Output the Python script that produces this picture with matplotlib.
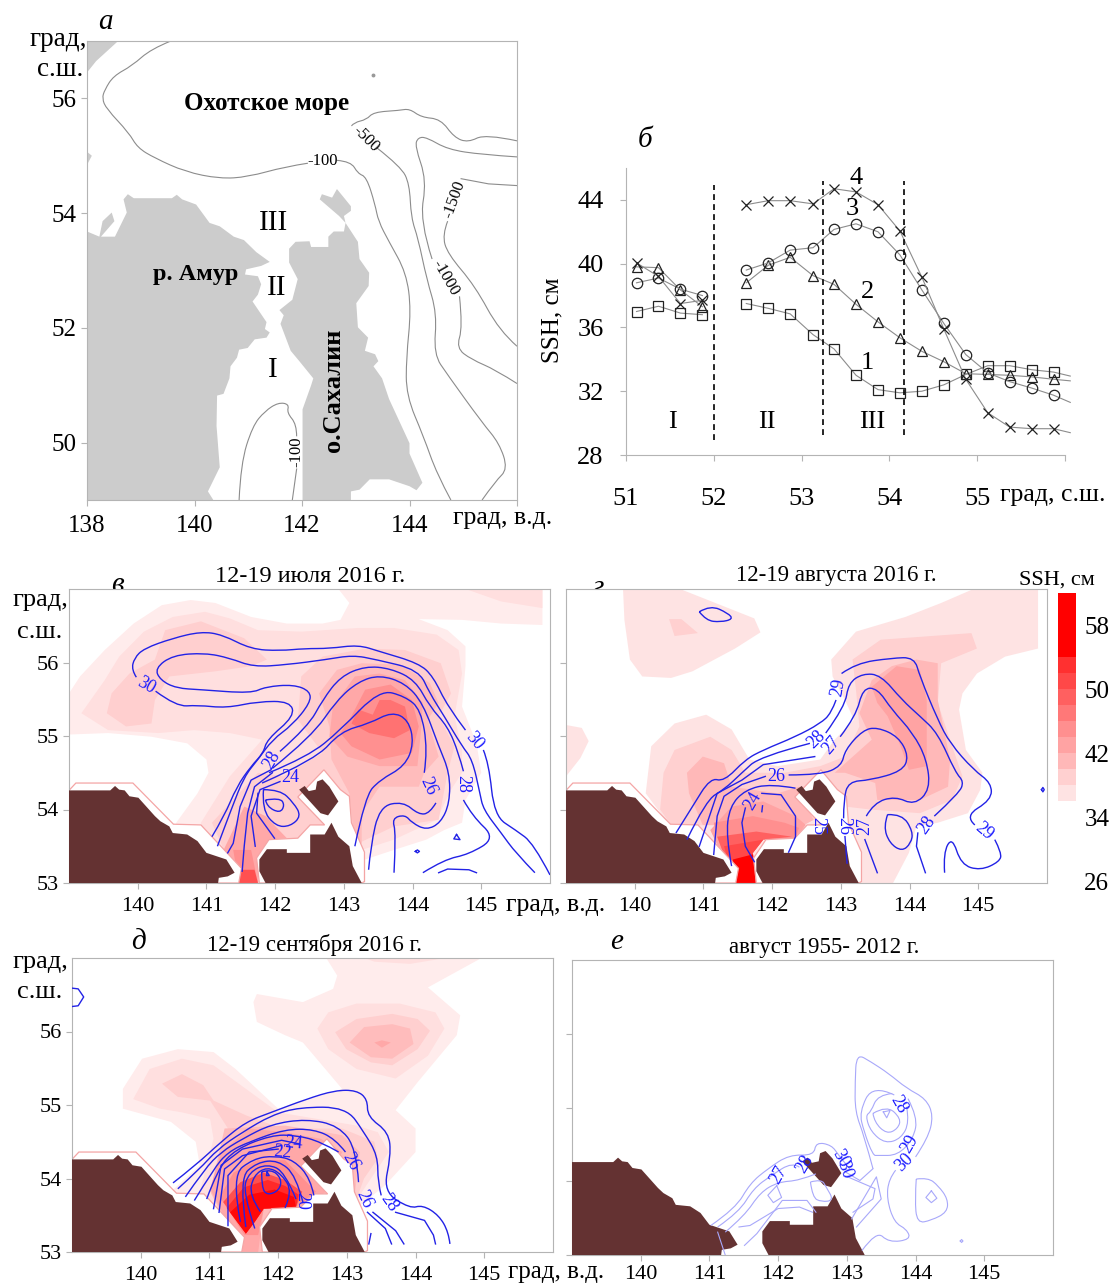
import matplotlib
matplotlib.use('Agg')
import matplotlib.pyplot as plt
from matplotlib.path import Path
from matplotlib.patches import PathPatch

plt.rcParams['font.family'] = ['Liberation Serif', 'DejaVu Serif']

W, H = 1109, 1286

# --- panel b, SSH along the strait ---
lat1 = [51.12, 51.37, 51.62, 51.87]
lat2 = [52.37, 52.62, 52.87, 53.13, 53.37, 53.62, 53.87, 54.12, 54.37, 54.62, 54.87, 55.12, 55.37, 55.62, 55.87]
lat_tail = 56.06
s1a = [37.0, 37.33, 36.9, 36.8]
s1b = [37.5, 37.2, 36.85, 35.55, 34.65, 33.0, 32.1, 31.9, 32.0, 32.4, 33.05, 33.6, 33.6, 33.35, 33.2]
s2a = [39.8, 39.75, 38.35, 37.3]
s2b = [38.8, 39.9, 40.4, 39.25, 38.7, 37.45, 36.35, 35.35, 34.5, 33.85, 33.1, 33.05, 33.0, 32.9, 32.75]
s3a = [38.8, 39.1, 38.4, 38.0]
s3b = [39.6, 40.05, 40.85, 41.0, 42.15, 42.5, 42.0, 40.55, 38.35, 36.25, 34.3, 33.15, 32.6, 32.2, 31.75]
s4a = [40.05, 39.2, 37.5, 37.7]
s4b = [43.7, 43.95, 43.95, 43.75, 44.7, 44.5, 43.7, 42.05, 39.15, 35.9, 32.75, 30.65, 29.75, 29.65, 29.65]
tails = [32.95, 32.65, 31.3, 29.4]
bounds_lat = [52.0, 53.24, 54.17]

# --- panel a, coast and isobaths (lon, lat) ---
a_west = [(138,53.68),(138.23,53.59),(138.29,53.86),(138.46,54.01),(138.51,53.86),(138.26,53.59),(138.52,53.59),(138.74,54.01),(138.68,54.24),(138.76,54.33),(138.87,54.26),(139.58,54.26),(139.67,54.32),(139.77,54.24),(140.03,54.15),(140.28,53.83),(140.47,53.77),(140.73,53.59),(140.92,53.53),(141.15,53.32),(141.40,53.15),(141.24,53.08),(140.96,53.02),(140.94,52.93),(141.18,52.90),(141.24,52.76),(141.18,52.58),(141.08,52.46),(141.34,52.10),(141.31,51.98),(141.40,51.92),(141.34,51.83),(141.12,51.80),(140.99,51.65),(140.83,51.62),(140.79,51.48),(140.67,51.33),(140.65,51.12),(140.54,50.85),(140.42,50.82),(140.41,50.29),(140.47,49.57),(140.25,49.15),(140.35,49),(138,49)]
a_sakh = [(142.01,49),(142.01,50.58),(142.17,51.0),(142.21,51.12),(141.95,51.42),(141.79,51.60),(141.60,52.07),(141.66,52.22),(141.58,52.31),(141.82,52.49),(141.92,52.85),(141.76,53.14),(141.76,53.38),(141.88,53.50),(142.14,53.51),(142.17,53.41),(142.49,53.41),(142.49,53.59),(142.59,53.68),(142.78,53.68),(142.81,53.83),(143.04,53.50),(143.07,53.20),(143.25,52.96),(143.24,52.73),(143.01,52.43),(143.04,52.01),(143.23,51.83),(143.17,51.60),(143.36,51.54),(143.42,51.42),(143.33,51.33),(143.49,51.12),(143.62,50.76),(144,49.99),(144,49.81),(144.24,49.30),(144.13,49.17),(144,49.24),(143.62,49.36),(143.26,49.36),(143.07,49.18),(142.91,49.15),(142.91,49)]
a_schmidt = [(142.81,53.83),(142.69,53.95),(142.33,54.24),(142.37,54.33),(142.56,54.27),(142.65,54.42),(142.91,54.12),(142.91,54.04),(142.78,53.95)]
a_nw = [(138,57),(138.58,57),(138.17,56.65),(138,56.45)]
a_bump = [(138,55.07),(138.09,55.0),(138,54.84)]
a_iso = [
    [(139.56,57),(139.19,56.86),(138.84,56.57),(138.49,56.39),(138.33,56.15),(138.28,56),(138.36,55.82),(138.78,55.40),(138.94,55.14),(139.26,54.96),(139.83,54.72),(140.47,54.60),(140.99,54.63),(141.69,54.81),(142.11,54.87)],
    [(142.65,54.92),(142.91,54.90),(143.04,54.69),(143.20,54.63),(143.36,54.15),(143.42,53.86),(143.62,53.50),(143.94,52.96),(144.03,52.31),(143.94,51.48),(143.94,50.82),(144.26,50.11),(144.51,49.45),(144.77,49)],
    [(142.92,55.52),(142.97,55.58),(143.20,55.63),(143.33,55.76),(143.81,55.79),(144,55.82),(144.22,55.67),(144.58,55.64),(144.83,55.32),(145.09,55.23),(145.41,55.38),(146,55.26)],
    [(143.39,55.14),(143.84,54.81),(144,54.51),(144.03,53.92),(144.16,53.56),(144.32,52.85),(144.51,52.25),(144.45,51.54),(144.71,51.18),(145.35,50.35),(145.67,49.99),(145.83,49.54),(145.60,49.33),(145.35,49)],
    [(146,54.98),(145.35,55.02),(144.71,55.11),(144.32,55.32),(144.16,55.32),(144.10,55.17),(144.32,54.57),(144.19,53.86),(144.42,53.20)],
    [(144.93,52.55),(144.99,52.01),(144.87,51.65),(145.15,51.45),(145.60,51.27),(146,51.03)],
    [(144.96,54.60),(145.47,54.51),(146,54.48)],
    [(144.71,53.86),(144.61,53.62),(144.71,53.29),(145.22,52.73),(145.67,51.95),(146,51.68)],
    [(140.83,49),(140.86,49.63),(141.08,50.29),(141.31,50.55),(141.56,50.70),(141.76,50.67),(141.72,50.52),(141.90,50.32),(141.90,50.11)],
    [(141.90,49.54),(141.82,49)],
]
a_iso_labels = [(143.19,55.29,'-500',-45),(142.38,54.90,'-100',0),(144.67,52.88,'-1000',-60),(144.83,54.24,'-1500',70),(141.90,49.84,'-100',90)]

# --- land and coastal mask shared by the SSH maps ---
land_w = [(139,53),(139,54.26),(139.60,54.26),(139.67,54.32),(139.73,54.27),(139.81,54.26),(139.88,54.18),(140.01,54.16),(140.25,53.91),(140.33,53.84),(140.46,53.77),(140.51,53.68),(140.72,53.66),(140.87,53.57),(141,53.41),(141.29,53.32),(141.41,53.14),(141.31,53.09),(141.18,53.07),(141.17,53)]
land_s = [(141.86,53),(141.77,53.16),(141.77,53.32),(141.88,53.46),(142.17,53.46),(142.17,53.41),(142.51,53.41),(142.51,53.66),(142.72,53.66),(142.82,53.82),(142.92,53.63),(143.08,53.50),(143.13,53.23),(143.26,53)]
land_p = [(142.35,54.27),(142.43,54.32),(142.49,54.25),(142.59,54.27),(142.61,54.38),(142.69,54.41),(142.79,54.31),(142.92,54.11),(142.77,53.92),(142.66,53.95)]
mask_w = [(139,54.26),(139.10,54.36),(139.93,54.36),(140.52,53.80),(140.92,53.79),(141.51,53.20),(141.47,53),(139,53)]
mask_e = [(141.77,53),(141.73,53.34),(141.91,53.59),(142.33,53.61),(142.51,53.79),(142.72,53.79),(142.33,54.17),(142.71,54.54),(142.95,54.27),(143.08,54.18),(143.11,53.82),(143.30,53.42),(143.30,53.02),(143.26,53)]

# --- SSH shading (colour step, outline) ---
cb_levels = [36, 38, 40, 42, 44, 46, 48, 50, 52, 54, 62]
cb_colors = ['#fee3e3', '#ffd0d0', '#ffb8b8', '#ffa3a3', '#ff8f8f', '#ff7878', '#ff6060', '#ff4848', '#ff3030', '#ff0000']
pale_colors = ['#ffecec', '#ffdfdf', '#ffcfcf', '#ffbcbc', '#ffa8a8', '#ff9090', '#ff7272', '#ff5050', '#ff2a2a', '#ff0808']

v_fills = [
    (0, [(139,55.02),(139.57,55.04),(140.20,54.99),(140.72,54.90),(141,54.68),(141.03,54.50),(140.87,54.22),(140.56,53.82),(140.56,53),(143.31,53),(143.31,53.32),(143.73,53.45),(144.20,53.59),(144.46,53.72),(144.72,53.82),(144.77,54.13),(145,54.50),(144.93,54.90),(144.72,55.40),(144.77,55.95),(144.77,56.22),(144.51,56.44),(144.09,56.59),(144.72,56.58),(145.29,56.53),(145.89,56.51),(145.89,57),(142.92,57),(143.08,56.81),(142.95,56.58),(142.69,56.53),(142.17,56.53),(141.65,56.62),(141.13,56.81),(140.77,56.85),(140.35,56.78),(139.94,56.53),(139.52,56.17),(139.16,55.81),(139,55.58)]),
    (1, [(144.77,57),(145.29,56.83),(145.89,56.74),(145.89,57)]),
    (1, [(139.18,55.31),(139.52,55.76),(139.73,56.08),(140.09,56.42),(140.51,56.62),(140.98,56.69),(141.34,56.60),(141.75,56.44),(142.38,56.42),(143.21,56.47),(143.73,56.47),(144.35,56.38),(144.67,56.17),(144.72,55.85),(144.61,55.27),(144.72,54.81),(144.72,54.50),(144.56,54.27),(144.35,53.86),(143.73,53.59),(143.26,53.45),(143.21,53),(141.13,53),(140.92,53.82),(141.34,54.45),(141.81,54.95),(141.34,55.04),(140.82,55.08),(140.30,55.04),(139.57,55.08)]),
    (2, [(139.55,55.31),(139.62,55.58),(139.88,55.85),(140.25,56.04),(140.40,56.44),(140.92,56.56),(141.55,56.33),(141.88,56.04),(141.65,55.95),(141.13,55.88),(140.46,55.81),(140.25,55.49),(140.20,55.17),(139.83,55.13)]),
    (2, [(142.38,55.81),(142.69,56.08),(143.31,56.19),(143.89,56.17),(144.41,55.99),(144.56,55.58),(144.38,55.27),(144.61,54.86),(144.51,54.50),(144.38,53.86),(143.73,53.77),(143.21,53.54),(143.21,53),(141.47,53),(141.08,53.82),(141.75,54.50),(142.12,54.45),(142.69,54.77),(142.33,55.22)]),
    (3, [(142.64,55.58),(142.90,55.90),(143.26,55.99),(143.83,55.97),(144.25,55.72),(144.38,55.45),(144.22,55.22),(144.38,54.72),(144.17,54.50),(144.09,54.31),(143.52,54.31),(143.26,53.95),(143.26,53.54),(143.16,53.50),(143.08,54.22),(142.82,54.68),(142.79,55.13)]),
    (4, [(142.84,55.40),(143.16,55.81),(143.52,55.85),(143.89,55.76),(144.15,55.45),(144.12,55.04),(144.07,54.59),(143.52,54.59),(143.05,54.72),(142.79,54.99)]),
    (5, [(143.11,55.27),(143.31,55.63),(143.68,55.70),(143.99,55.49),(144.09,55.13),(143.99,54.77),(143.52,54.68),(143.11,54.86),(142.95,55.04)]),
    (6, [(143.42,55.29),(143.52,55.49),(143.68,55.49),(143.89,55.40),(143.96,55.08),(143.73,54.97),(143.37,55.04),(143.11,55.17),(143.21,55.36)]),
    (4, [(141.23,53.41),(141.55,54.04),(141.86,53.91),(142.17,53.61),(141.91,53.59),(141.75,53.32),(141.75,53),(141.47,53)]),
    (5, [(141.39,53.45),(141.65,53.45),(141.75,53),(141.47,53)]),
    (7, [(141.49,53.18),(141.70,53.18),(141.75,53),(141.47,53)]),
]
v_lines = [
    [(139.98,55.80),(139.91,55.90),(139.95,56.06),(140.09,56.19),(140.51,56.33),(140.92,56.42),(141.23,56.38),(141.65,56.18),(142.07,56.16),(142.43,56.19),(142.79,56.19),(143.21,56.24),(143.52,56.15),(144.09,55.99),(144.30,55.81),(144.51,55.40),(144.77,55.08)],
    [(145.03,54.81),(145.11,54.63),(145.19,53.91),(145.50,53.72),(145.76,53.54),(146,53.11)],
    [(140.26,55.61),(140.56,55.40),(140.87,55.42),(141.29,55.38),(141.75,55.47),(142.22,55.47),(142.28,55.27),(141.88,54.95),(141.83,54.77),(141.65,54.59),(141.44,54.31),(141.26,53.91),(141.08,53.63)],
    [(141.16,53.50),(141.36,54),(141.55,54.45),(141.75,54.68),(141.96,54.95),(142.25,55.15),(142.51,55.45),(142.51,55.61),(142.27,55.70),(141.86,55.67),(141.65,55.58),(140.92,55.63),(140.56,55.65),(140.33,55.76),(140.25,55.92),(140.51,56.10),(140.98,56.13),(141.34,56.06),(141.68,55.94),(142.17,55.97),(142.74,56.04),(143.13,56.10),(143.47,56.04),(144.09,55.90),(144.25,55.58),(144.46,55.27),(144.72,54.86),(144.87,54.68),(144.98,54.22),(145.03,54),(145.29,53.68),(145.50,53.41),(145.78,53.14)],
    [(142.07,54.79),(142.48,55.13),(142.69,55.49),(142.95,55.81),(143.31,55.95),(143.68,55.92),(144.04,55.76),(144.25,55.40),(144.51,55.13),(144.67,54.77),(144.74,54.52)],
    [(144.74,54.13),(144.87,53.91),(145.21,53.61),(144.82,53.39),(144.46,53.32),(144.15,53.14)],
    [(141.96,54.56),(142.53,54.99),(142.90,55.49),(143.21,55.74),(143.52,55.83),(143.89,55.72),(144.15,55.45),(144.38,54.86),(144.54,54.50),(144.54,54.09),(144.41,53.82),(144.20,53.72),(143.99,53.82),(143.89,53.93),(143.70,53.88),(143.76,53.68),(143.73,53.14)],
    [(141.91,54.50),(142.48,54.72),(142.95,55.08),(143.52,55.63),(143.89,55.54),(144.12,55.36),(144.22,54.81),(144.17,54.50)],
    [(144.34,54.09),(144.25,53.95),(144.09,53.93),(143.86,54.11),(143.52,54.04),(143.39,53.50),(143.36,53.18)],
    [(141.81,54.36),(142.59,54.68),(142.95,55.06),(143.37,55.17),(143.70,55.33),(143.94,55.22),(144.02,54.90),(143.89,54.59),(143.52,54.40),(143.31,54.18),(143.16,53.50)],
    [(141.94,54.54),(141.65,54.40),(141.49,54.04),(141.39,53.54),(141.31,53.41)],
    [(141.96,54.50),(141.70,54.31),(141.60,53.95),(141.55,53.50),(141.52,53.16)],
    [(142.07,54.38),(141.78,54.27),(141.65,53.91),(141.71,53.50)],
    [(141.83,54.27),(142.07,54.27),(142.27,54.09),(142.38,53.91),(142.22,53.77),(142.01,53.77),(141.81,54),(141.83,54.27)],
    [(141.86,54.13),(142.07,54.16),(142.14,54.06),(142.07,53.95),(141.88,54.04),(141.86,54.13)],
    [(141.75,54.22),(141.73,53.95),(141.99,53.61)],
    [(144.64,53.66),(144.69,53.59),(144.60,53.60),(144.64,53.66)],
    [(144.04,53.43),(144.07,53.45),(144.10,53.43),(144.07,53.41),(144.04,53.43)],
    [(144.38,53.14),(144.51,53.19),(144.82,53.18),(144.93,53.14)],
]
v_labels = [(140.12,55.68,'30',-30),(141.95,54.68,'28',60),(142.22,54.43,'24',0),(144.23,54.31,'26',-65),(144.73,54.35,'28',-90),(144.90,54.93,'30',-50)]

g_fills = [
    (0, [(139.83,57),(140.66,57),(141.74,56.60),(141.83,56.41),(141.46,56.19),(140.84,55.88),(140.53,55.79),(140.11,55.81),(139.93,56.04),(139.85,56.58)]),
    (1, [(140.50,56.59),(140.68,56.59),(140.92,56.40),(140.58,56.36)]),
    (0, [(139,55.15),(139.23,55.11),(139.33,54.93),(139.21,54.70),(139,54.45)]),
    (0, [(144.93,57),(145.87,57),(145.87,56.19),(145.39,56.08),(144.98,55.85),(144.77,55.58),(144.72,55.36),(144.82,54.81),(145.06,54.50),(145.03,54.27),(144.85,53.95),(144.41,53.82),(144.10,53.77),(143.99,53.41),(143.76,53),(143.32,53),(142.39,53),(140.84,53),(140.48,53.82),(140.16,54.22),(140.24,54.86),(140.58,55.17),(141.04,55.29),(141.41,55.09),(141.67,54.68),(142.08,54.59),(142.70,54.68),(142.91,54.95),(143.19,55.22),(143.06,55.49),(142.88,55.81),(142.86,56.04),(143.22,56.42),(143.94,56.62),(144.46,56.81)]),
    (1, [(143.17,56.04),(143.58,56.31),(144.90,56.40),(144.98,56.19),(144.46,55.99),(144.41,55.45),(144.62,54.86),(144.77,54.45),(144.62,54.13),(144.15,53.95),(143.43,54),(143.06,54.04),(142.39,53.77),(140.53,53.79),(140.37,54),(140.42,54.50),(140.58,54.81),(141.10,54.99),(141.41,54.81),(141.61,54.50),(142.18,54.50),(142.70,54.59),(143.06,54.72),(143.27,55.13),(143.22,55.63)]),
    (2, [(143.45,55.76),(143.74,55.95),(144.10,56.04),(144.41,55.99),(144.41,55.49),(144.59,54.68),(144.56,54.31),(144.15,54.13),(143.53,54.13),(143.50,54.36),(143.06,54.50),(142.91,54.50),(143.45,54.95),(143.27,55.31)]),
    (2, [(140.76,54.50),(140.99,54.72),(141.30,54.63),(141.41,54.31),(142.08,54.22),(142.39,54.31),(142.60,53.86),(142.47,53.79),(140.99,53.79),(140.79,54.22)]),
    (3, [(143.45,55.67),(143.81,55.95),(144.15,55.90),(144.25,55.49),(144.25,54.59),(143.99,54.54),(143.87,54.86),(143.68,55.27),(143.53,55.45)]),
    (3, [(141.41,54.04),(141.87,54.11),(142.34,53.91),(142.49,53.79),(142.34,53.61),(141.87,53.59),(141.72,53.41),(141.77,53),(141.46,53),(141.10,53.72)]),
    (4, [(141.15,53.82),(141.72,53.91),(142.18,53.82),(142.39,53.75),(142.34,53.61),(141.87,53.59),(141.72,53.41),(141.77,53),(141.46,53),(141.20,53.63)]),
    (6, [(141.20,53.63),(141.77,53.70),(142.29,53.63),(141.87,53.59),(141.72,53.41),(141.76,53),(141.45,53)]),
    (7, [(141.30,53.50),(141.87,53.59),(141.72,53.41),(141.76,53),(141.45,53)]),
    (9, [(141.43,53.32),(141.72,53.39),(141.76,53),(141.45,53)]),
]
g_lines = [
    [(142.93,55.49),(142.86,55.31),(142.70,55.17),(142.34,54.99),(141.87,54.81),(141.61,54.68),(141.30,54.38),(141.10,54.43),(140.84,54.04),(140.60,53.68)],
    [(143.01,55.85),(143.22,55.99),(143.74,56.06),(144.07,56.07),(144.15,55.81),(144.41,55.22),(144.59,54.90),(144.93,54.54),(145.19,54.36),(145.19,54.13),(144.80,53.91),(144.95,53.79)],
    [(145.24,53.59),(145.34,53.41),(145.31,53.29),(145.03,53.17),(144.75,53.25),(144.62,53.63),(144.49,53.41),(144.51,53.14)],
    [(142.55,54.90),(141.82,54.72),(141.56,54.50),(141.30,54.27),(141.04,54.13),(140.76,53.59)],
    [(142.78,55.04),(143.06,55.40),(143.11,55.72),(143.32,55.85),(143.58,55.83),(143.89,55.49),(144.15,55.27),(144.41,55.04),(144.67,54.50),(144.79,54.38),(144.72,54.22),(144.36,53.91)],
    [(144.12,53.68),(144.10,53.50),(144.23,53.14)],
    [(142.62,54.72),(141.87,54.61),(141.56,54.40),(141.20,54.22),(140.94,53.50)],
    [(142.99,54.99),(143.22,55.27),(143.32,55.65),(143.53,55.65),(143.74,55.36),(144.05,55.04),(144.25,54.68),(144.30,54.27),(144.07,54.06),(143.79,54.18),(143.48,54.09),(143.37,53.91)],
    [(143.35,53.59),(143.53,53.14)],
    [(141.90,54.45),(141.56,54.34),(141.30,54.18),(141.20,53.91),(141.15,53.39)],
    [(142.24,54.47),(142.70,54.47),(143.01,54.59),(143.06,54.81),(143.32,55.08),(143.53,55.12),(143.84,54.99),(143.99,54.72),(143.89,54.52),(143.43,54.40),(143.11,54.38),(143.04,54.13),(143.04,53.88)],
    [(143.06,53.63),(143.09,53.27)],
    [(142.34,54.29),(141.98,54.35),(141.61,54.27),(141.38,54.04),(141.33,53.63),(141.41,53.23)],
    [(141.85,54.22),(142.13,54.20),(142.34,53.91),(142.34,53.63),(142.24,53.42)],
    [(141.61,54.02),(141.56,53.82),(141.61,53.50),(141.74,53.29)],
    [(141.86,54.05),(141.85,53.97)],
    [(143.68,53.93),(143.89,53.94),(144.05,53.70),(144.02,53.54),(143.89,53.43),(143.71,53.54),(143.62,53.77),(143.68,53.93)],
    [(140.94,56.69),(141.10,56.78),(141.36,56.67),(141.43,56.59),(141.25,56.55),(141.04,56.57),(140.94,56.69)],
    [(145.92,54.27),(145.94,54.30),(145.96,54.27),(145.94,54.24),(145.92,54.27)],
]
g_labels = [(142.96,55.66,'29',80),(142.65,54.95,'28',45),(142.86,54.88,'27',50),(142.06,54.45,'26',0),(141.72,54.11,'24',60),(142.67,53.77,'25',-90),(143.04,53.77,'26',-90),(143.35,53.77,'27',90),(144.25,53.79,'28',55),(145.08,53.70,'29',-40)]

d_fills = [
    (0, [(142.70,57),(144.96,57),(144.18,56.60),(144.65,56.22),(144.60,55.95),(144.03,55.31),(143.71,54.93),(143.45,54.99),(142.93,55.22),(142.36,55.85),(142.10,55.95),(141.69,56.13),(141.64,56.40),(141.69,56.51),(142.36,56.40),(142.80,56.58),(142.86,56.76)]),
    (1, [(143.25,57),(144.44,57),(143.92,56.92),(143.40,56.95)]),
    (0, [(143.71,54.93),(144,54.68),(144,54.36),(143.56,53.91),(143.14,53.59),(143.30,53.45),(143.30,53),(140.44,53),(140.44,53.82),(140.86,54.18),(140.80,54.50),(140.44,54.77),(139.74,54.95),(139.74,55.22),(140.02,55.63),(140.54,55.76),(141.06,55.72),(141.38,55.49),(142,54.95),(142.93,55.22)]),
    (1, [(142.57,56.04),(142.73,56.26),(143.14,56.38),(143.77,56.38),(144.29,56.26),(144.42,56.04),(144.18,55.67),(143.71,55.36),(143.14,55.49),(142.73,55.76)]),
    (1, [(139.89,55.08),(140.13,55.49),(140.60,55.63),(141.06,55.54),(142,54.90),(143.14,54.72),(143.45,54.63),(143.61,54.36),(143.35,54),(143.09,53.63),(143.09,53),(141.06,53),(140.86,53.82),(141.06,54.54),(141.01,54.81),(140.60,54.90),(140.28,54.95)]),
    (2, [(142.83,55.99),(143.14,56.17),(143.66,56.24),(144.03,56.17),(144.21,56.01),(144.03,55.76),(143.66,55.54),(143.35,55.58),(142.99,55.76)]),
    (2, [(140.31,55.29),(140.60,55.42),(140.91,55.27),(141.06,55.06),(141.53,54.86),(142.05,54.68),(142.93,54.68),(143.40,54.50),(143.45,54.27),(143.25,54),(143.09,53.59),(143.09,53),(141.27,53),(141.06,53.82),(141.27,54.68),(141.01,55.06),(140.54,55.11)]),
    (3, [(143.04,55.85),(143.25,56.06),(143.66,56.10),(143.92,56.04),(143.97,55.83),(143.66,55.63),(143.35,55.65)]),
    (4, [(143.40,55.85),(143.51,55.88),(143.64,55.85),(143.51,55.78)]),
    (3, [(141.22,54.68),(142.10,54.72),(142.93,54.59),(143.19,54.36),(143.09,53.59),(143.09,53),(141.48,53),(141.01,53.82)]),
    (4, [(141.01,53.86),(141.17,54.36),(141.58,54.68),(142.10,54.63),(142.62,54.54),(142.93,54.36),(142.70,53.82),(142.26,53.59),(141.79,53.59),(141.71,53),(141.48,53)]),
    (5, [(141.15,53.75),(141.35,54.08),(141.70,54.25),(142.10,54.25),(142.31,54.05),(142.55,53.82),(142.26,53.61),(141.79,53.59),(141.71,53.23),(141.51,53.23)]),
    (7, [(141.20,53.68),(141.45,53.95),(141.79,54.08),(142.10,53.98),(142.35,53.82),(142.26,53.61),(141.79,53.59),(141.66,53.41),(141.53,53.25)]),
    (8, [(141.25,53.60),(141.50,53.88),(141.85,53.98),(142.10,53.90),(142.30,53.78),(142.26,53.61),(141.79,53.59),(141.66,53.41),(141.53,53.25)]),
    (9, [(141.30,53.54),(141.58,53.78),(141.95,53.85),(142.23,53.75),(142.26,53.61),(141.79,53.59),(141.66,53.41),(141.53,53.25)]),
]
d_lines = [
    [(140.47,53.94),(140.80,54.18),(141.17,54.50),(141.53,54.77),(141.90,54.90),(142.41,55.08),(142.83,55.20),(143.14,55.20),(143.30,55.08),(143.30,54.84),(143.61,54.63),(143.64,54.31),(143.53,53.82),(143.92,53.59),(144.10,53.64),(144.34,53.50),(144.48,53.27),(144.50,53.11)],
    [(140.54,53.86),(140.86,54.13),(141.12,54.40),(141.48,54.63),(141.90,54.86),(142.31,54.97),(142.99,54.97),(143.25,54.63),(143.45,54.31),(143.45,53.95),(143.50,53.77)],
    [(143.71,53.54),(144.13,53.43),(144.26,53.23),(144.29,53.11)],
    [(140.65,53.75),(140.93,54.13),(141.17,54.36),(141.48,54.54),(141.90,54.74),(142.41,54.81),(142.88,54.72),(143.14,54.40),(143.17,53.95)],
    [(143.38,53.54),(143.71,53.29),(143.83,53.11)],
    [(140.78,53.70),(141.06,54.13),(141.27,54.36),(141.58,54.50),(142.10,54.67),(142.52,54.67),(142.83,54.54),(142.98,54.36)],
    [(143.30,53.54),(143.56,53.32),(143.65,53.11)],
    [(140.96,53.72),(141.12,54.13),(141.38,54.40),(141.90,54.59),(142.26,54.59),(142.62,54.50),(142.88,54.36)],
    [(141.06,53.59),(141.17,54.18),(141.48,54.40),(142.05,54.52),(142.31,54.47)],
    [(141.14,53.54),(141.22,54.13),(141.48,54.31),(142.05,54.45)],
    [(141.27,53.36),(141.27,54.04),(141.58,54.36),(142,54.40)],
    [(141.45,53.41),(141.32,54.04),(141.64,54.27),(141.95,54.31),(142.23,54.25),(142.47,54),(142.52,53.77)],
    [(141.53,53.34),(141.43,54),(141.69,54.22),(142,54.25),(142.26,54.04),(142.36,53.68)],
    [(141.66,53.32),(141.48,53.82),(141.58,54.09),(141.84,54.20),(142.10,54.09),(142.26,53.72)],
    [(141.74,53.55),(141.58,53.77),(141.64,54.04),(141.84,54.16),(142.05,54.06),(142.21,53.82),(142.10,53.60)],
    [(141.76,54.09),(141.90,54.13),(142.05,54),(142.02,53.84),(141.84,53.77),(141.76,53.88),(141.76,54.09)],
    [(141.84,54.09),(141.87,54.04),(141.83,54.04),(141.84,54.09)],
    [(139,56.59),(139.09,56.58),(139.17,56.47),(139.09,56.35),(139,56.34)],
    [(143.35,53.25),(143.32,53.11)],
]
d_labels = [(142.23,54.48,'24',-5),(142.07,54.36,'22',-5),(142.34,53.70,'20',-90),(143.05,54.23,'26',-60),(143.25,53.72,'26',-65),(143.61,53.67,'28',-55)]

e_lines = [
    [(143.38,54.17),(143.25,54.62),(143.12,54.94),(143.12,55.35),(143.14,55.73),(143.35,55.62),(143.61,55.46),(143.87,55.26),(144.15,55.12),(144.26,54.89),(144.18,54.58),(144,54.33)],
    [(143.38,54.17),(143.19,54.01),(142.99,54.12)],
    [(143.71,54.15),(143.61,54.03),(143.58,53.76),(143.69,53.44),(143.87,53.35),(143.93,53.21),(143.61,53.17),(143.43,53.33),(143.22,53.06)],
    [(143.69,55.17),(143.38,55.31),(143.18,54.94),(143.25,54.67),(143.38,54.35),(143.45,54.35),(143.74,54.35),(143.97,54.58),(144.03,54.87),(143.89,55.12)],
    [(143.66,55.19),(143.45,55.17),(143.35,54.94),(143.27,54.89),(143.35,54.67),(143.56,54.51),(143.79,54.58),(143.91,54.80),(143.87,55.01)],
    [(143.38,54.92),(143.58,55.03),(143.79,54.85),(143.74,54.71),(143.58,54.64),(143.40,54.80),(143.38,54.92)],
    [(143.53,54.94),(143.63,54.96),(143.58,54.86),(143.53,54.94)],
    [(144.01,54.03),(144.18,54.05),(144.33,53.94),(144.47,53.76),(144.46,53.58),(144.23,53.47),(144.02,53.43),(143.99,53.76),(144.01,54.03)],
    [(144.23,53.87),(144.31,53.77),(144.23,53.71),(144.15,53.78),(144.23,53.87)],
    [(141.02,53.40),(141.38,53.63),(141.59,53.97),(141.85,54.17),(142.16,54.36),(142.52,54.35),(142.55,54.53),(142.78,54.49),(142.88,54.35),(143.04,54.17)],
    [(141.12,53.38),(141.43,53.58),(141.64,53.90),(141.90,54.08),(142.21,54.26),(142.31,54.19)],
    [(141.23,53.31),(141.51,53.53),(141.74,53.85),(142,53.99),(142.31,54.01),(142.55,54.10)],
    [(141.98,53.94),(141.85,53.81),(141.93,53.71),(142.05,53.78),(141.98,53.94)],
    [(141.23,53),(141.12,53.31)],
    [(141.51,53.13),(141.69,53.29),(142.06,53.74),(142.42,53.74),(142.55,53.58)],
    [(141.43,53.38),(141.59,53.40),(142,53.63),(142.31,53.65),(142.50,53.58)],
    [(142.47,53.99),(142.63,54.03),(142.70,53.92),(142.81,53.74),(142.63,53.72),(142.50,53.78),(142.47,53.99)],
    [(142.96,54.08),(143.41,53.90),(143.38,53.76),(143.09,53.58)],
    [(143.07,53.49),(143.43,54.06),(143.50,53.76),(143.14,53.38)],
    [(144.65,53.19),(144.67,53.21),(144.69,53.19),(144.67,53.17),(144.65,53.19)],
]
e_labels = [(143.76,55.04,'28',-60),(143.91,54.51,'29',60),(143.84,54.25,'30',45),(142.01,54.09,'27',60),(142.39,54.24,'28',60),(142.91,54.31,'30',-60),(142.96,54.15,'30',-70)]

map_xticks = [140, 141, 142, 143, 144, 145]
map_yticks = [53, 54, 55, 56]
cb_ticks = [26, 34, 42, 50, 58]

GRAY = '#b4b4b4'
BLUE = '#2222e6'
PALE = '#a8a8fa'
BROWN = '#643232'


def new_ax(left, top, right, bottom):
    return fig.add_axes([left / W, 1 - bottom / H, (right - left) / W, (bottom - top) / H])


def put(x, y, s, size=15, **kw):
    kw.setdefault('ha', 'center')
    kw.setdefault('va', 'center')
    fig.text(x / W, 1 - y / H, s, fontsize=size, **kw)


def shape(ax, pts, **kw):
    ax.fill([p[0] for p in pts], [p[1] for p in pts], **kw)


def curve(ax, pts, color, lw, zorder=2):
    # small shapes stay as they are, longer lines get rounded corners
    if len(pts) <= 5:
        ax.plot([p[0] for p in pts], [p[1] for p in pts], color=color, lw=lw, zorder=zorder)
        return
    verts = [pts[0]]
    codes = [Path.MOVETO]
    for i in range(1, len(pts) - 1):
        mid = ((pts[i][0] + pts[i + 1][0]) / 2, (pts[i][1] + pts[i + 1][1]) / 2)
        if i == len(pts) - 2:
            mid = pts[i + 1]
        verts += [pts[i], mid]
        codes += [Path.CURVE3, Path.CURVE3]
    ax.add_patch(PathPatch(Path(verts, codes), fill=False, edgecolor=color, lw=lw, zorder=zorder))


def style(ax, tick_size):
    for sp in ax.spines.values():
        sp.set_color(GRAY)
    ax.tick_params(colors='black', color=GRAY, length=4, labelsize=tick_size)


def ssh_map(box, fills, lines, labels, palette=pale_colors, ylabels=True, mask=True, color=BLUE, lw=1.0, xpad=6):
    ax = new_ax(*box)
    for step, pts in fills:
        shape(ax, pts, color=palette[step], lw=0)
    if mask:
        for pts in (mask_w, mask_e):
            shape(ax, pts, facecolor='white', edgecolor='#f4a5a5', lw=0.9)
    for pts in (land_w, land_s, land_p):
        shape(ax, pts, color=BROWN, lw=0, zorder=3)
    for line in lines:
        curve(ax, line, color, lw, zorder=4)
    for x, y, s, rot in labels:
        ax.text(x, y, s, color='#1a1aff', fontsize=13, rotation=rot, ha='center', va='center', zorder=5)
    ax.set_xlim(139, 146)
    ax.set_ylim(53, 57)
    ax.set_xticks(map_xticks)
    ax.set_yticks(map_yticks)
    style(ax, 16)
    ax.tick_params(axis='x', pad=xpad)
    if not ylabels:
        ax.set_yticklabels([])
    return ax


fig = plt.figure(figsize=(W / 100, H / 100), dpi=100)

# panel a
ax = new_ax(87, 41, 517, 500)
for pts in (a_west, a_sakh, a_schmidt, a_nw, a_bump):
    shape(ax, pts, color='#cccccc', lw=0)
for line in a_iso:
    curve(ax, line, '#8c8c8c', 0.8)
ax.plot([143.33], [56.41], 'o', color='#999999', ms=1.8)
for x, y, s, rot in a_iso_labels:
    ax.text(x, y, s, fontsize=12, rotation=rot, ha='center', va='center')
ax.text(141.34, 55.91, 'Охотское море', fontsize=18, fontweight='bold', ha='center', va='center')
ax.text(140.03, 52.93, 'р. Амур', fontsize=17.5, fontweight='bold', ha='center', va='center')
ax.text(142.58, 50.91, 'о.Сахалин', fontsize=19, fontweight='bold', rotation=90, ha='center', va='center')
ax.text(141.48, 53.83, 'III', fontsize=21, ha='center', va='center')
ax.text(141.53, 52.70, 'II', fontsize=21, ha='center', va='center')
ax.text(141.46, 51.27, 'I', fontsize=21, ha='center', va='center')
ax.set_xlim(138, 146)
ax.set_ylim(49, 57)
ax.set_xticks([138, 140, 142, 144, 146], ['138', '140', '142', '144', ''])
ax.set_yticks([50, 52, 54, 56])
style(ax, 18)
ax.tick_params(axis='x', pad=7)
put(105, 22, 'а', 21, style='italic')
put(58, 40, 'град,', 19.5)
put(60, 69, 'с.ш.', 19.5)
put(503, 518, 'град, в.д.', 18.5)

# panel b
ax = new_ax(626, 168, 1065, 455)
series = [(s1a, s1b, 's'), (s2a, s2b, '^'), (s3a, s3b, 'o'), (s4a, s4b, 'x')]
for (first, second, mark), tail in zip(series, tails):
    ax.plot(lat1, first, color='#8c8c8c', lw=0.8)
    ax.plot(lat2 + [lat_tail], second + [tail], color='#8c8c8c', lw=0.8, clip_on=False)
    for xs, ys in ((lat1, first), (lat2, second)):
        ax.plot(xs, ys, ls='none', marker=mark, ms=7.5, mfc='none', mec='#222222', mew=0.9, clip_on=False)
for x, top, low in zip(bounds_lat, [44.95, 45.16, 45.16], [28.95, 29.26, 29.26]):
    ax.plot([x, x], [low, top], color='black', lw=1.2, ls=(0, (3.5, 2.5)))
for x, y, s in [(51.53, 30.1, 'I'), (52.6, 30.1, 'II'), (53.8, 30.1, 'III'), (53.62, 45.4, '4'), (53.58, 43.4, '3'), (53.75, 38.25, '2'), (53.75, 33.8, '1')]:
    ax.text(x, y, s, fontsize=19, ha='center', va='center')
ax.set_xlim(51, 56)
ax.set_ylim(28, 46)
ax.set_xticks([51, 52, 53, 54, 55, 56], ['51', '52', '53', '54', '55', ''])
ax.set_yticks([28, 32, 36, 40, 44])
style(ax, 19)
ax.tick_params(axis='x', pad=20)
ax.tick_params(axis='y', pad=12)
ax.spines['top'].set_visible(False)
ax.spines['right'].set_visible(False)
put(645, 140, 'б', 21, style='italic')
put(552, 320, 'SSH, см', 18, rotation=90)
put(1053, 495, 'град, с.ш.', 18.5)

# maps, the cut letters sit under the axes
put(117, 585, 'в', 21, style='italic', zorder=-1)
put(598, 588, 'г', 21, style='italic', zorder=-1)
ssh_map((69, 589, 550, 883), v_fills, v_lines, v_labels)
ssh_map((566, 589, 1047, 883), g_fills, g_lines, g_labels, palette=cb_colors, ylabels=False)
ssh_map((72, 958, 553, 1252), d_fills, d_lines, d_labels)
ssh_map((572, 960, 1053, 1255), [], e_lines, e_labels, ylabels=False, mask=False, color=PALE, lw=0.8, xpad=3)

put(310, 577, '12-19 июля 2016 г.', 17.5)
put(836, 576, '12-19 августа 2016 г.', 16.5)
put(1057, 580, 'SSH, см', 16)
put(40, 600, 'град,', 19)
put(40, 632, 'с.ш.', 19)
put(556, 905, 'град, в.д.', 18.5)
put(139, 942, 'д', 21, style='italic')
put(315, 945, '12-19 сентября 2016 г.', 16.5)
put(617, 942, 'е', 21, style='italic')
put(824, 948, 'август 1955- 2012 г.', 16.5)
put(40, 962, 'град,', 19)
put(40, 992, 'с.ш.', 19)
put(556, 1272, 'град, в.д.', 18)

# colour scale
cax = new_ax(1058, 593, 1076, 881)
for low, high, col in zip(cb_levels[:-1], cb_levels[1:], cb_colors):
    cax.bar(0, high - low, bottom=low, width=1, color=col, lw=0)
cax.set_xlim(-0.5, 0.5)
cax.set_ylim(26, 62)
cax.set_xticks([])
cax.set_yticks(cb_ticks)
cax.yaxis.tick_right()
cax.tick_params(length=0, labelsize=18, pad=6)
for sp in cax.spines.values():
    sp.set_visible(False)

fig.savefig('out.png', dpi=100)
